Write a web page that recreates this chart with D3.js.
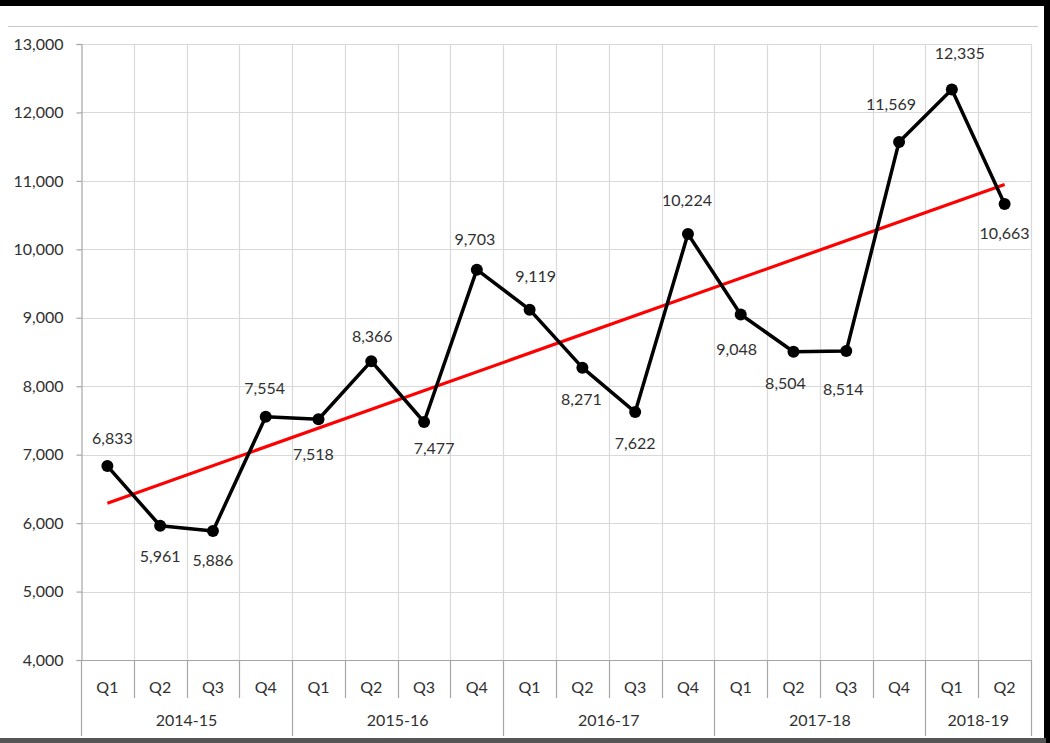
<!DOCTYPE html>
<html>
<head>
<meta charset="utf-8">
<script src="https://cdn.jsdelivr.net/npm/d3@7/dist/d3.min.js"></script>
<style>
  html, body { margin: 0; padding: 0; background: #fff; }
  svg { display: block; }
  text { font-family: Lato, "Open Sans", sans-serif; fill: #303030; }
</style>
</head>
<body>
<svg id="chart" width="1050" height="743"></svg>
<script>
// ---- data ----
const quarters = ["Q1","Q2","Q3","Q4","Q1","Q2","Q3","Q4","Q1","Q2","Q3","Q4","Q1","Q2","Q3","Q4","Q1","Q2"];
const years = ["2014-15","2015-16","2016-17","2017-18","2018-19"];
const yearSpans = [4, 4, 4, 4, 2];
const values = [6833, 5961, 5886, 7554, 7518, 8366, 7477, 9703, 9119, 8271, 7622, 10224, 9048, 8504, 8514, 11569, 12335, 10663];
const yTicks = [4000, 5000, 6000, 7000, 8000, 9000, 10000, 11000, 12000, 13000];

// ---- label layout (pixel offsets of value labels from their points) ----
const labelDx = [5, 0, 0, -1, -5, 1, 10, -2, 6, -1, 0, -1, -4, -8, -3, -8, 8, 0];
const labelDy = [-28, 31, 29, -28, 35, -25, 26, -30, -33, 32, 31, -34, 35, 32, 38, -38, -36, 29];

(function () {
const svg = d3.select("#chart");
const W = 1050, H = 743;
const pLeft = 81, pRight = 1031, pTop = 44, pBottom = 660;
const textColor = "#303030";

// frame
svg.append("rect").attr("x", 0).attr("y", 0).attr("width", W).attr("height", 6).attr("fill", "#000");
svg.append("rect").attr("x", 1044).attr("y", 0).attr("width", 6).attr("height", H).attr("fill", "#000");
svg.append("rect").attr("x", 0).attr("y", 738).attr("width", 1046).attr("height", 5).attr("fill", "#555");
svg.append("line").attr("x1", 8).attr("x2", 1038).attr("y1", 26.5).attr("y2", 26.5)
  .attr("stroke", "#c8c8c8").attr("stroke-width", 1.2);

const idx = d3.range(values.length);
const x = d3.scaleBand().domain(idx).range([pLeft, pRight]).padding(0);
const y = d3.scaleLinear().domain([4000, 13000]).range([pBottom, pTop]);

// horizontal gridlines
svg.append("g").selectAll("line").data(yTicks.slice(1)).join("line")
  .attr("x1", pLeft).attr("x2", pRight)
  .attr("y1", d => Math.round(y(d)) + 0.5).attr("y2", d => Math.round(y(d)) + 0.5)
  .attr("stroke", "#d9d9d9").attr("stroke-width", 1.2);

// vertical gridlines at category boundaries
const bounds = d3.range(values.length + 1).map(i => pLeft + i * x.bandwidth());
svg.append("g").selectAll("line").data(bounds.slice(1)).join("line")
  .attr("x1", d => Math.round(d) + 0.5).attr("x2", d => Math.round(d) + 0.5)
  .attr("y1", pTop).attr("y2", pBottom)
  .attr("stroke", "#d9d9d9").attr("stroke-width", 1.2);

// y axis
const yAxis = svg.append("g").attr("transform", `translate(${pLeft + 0.5},0)`)
  .call(d3.axisLeft(y).tickValues(yTicks).tickFormat(d3.format(",")).tickSize(5).tickPadding(13));
yAxis.select(".domain").attr("stroke", "#a6a6a6").attr("stroke-width", 1.2);
yAxis.selectAll(".tick line").attr("stroke", "#a6a6a6").attr("stroke-width", 1.2);
yAxis.selectAll(".tick text").style("font-family", "Lato, 'Open Sans', sans-serif")
  .style("font-size", "16px").attr("fill", textColor);

// x axis line
svg.append("line").attr("x1", pLeft).attr("x2", pRight)
  .attr("y1", pBottom + 0.5).attr("y2", pBottom + 0.5)
  .attr("stroke", "#a6a6a6").attr("stroke-width", 1.2);

// category separators
const groupStarts = [0];
yearSpans.forEach((s, i) => groupStarts.push(groupStarts[i] + s));
svg.append("g").selectAll("line").data(d3.range(values.length + 1)).join("line")
  .attr("x1", i => Math.round(bounds[i]) + 0.5).attr("x2", i => Math.round(bounds[i]) + 0.5)
  .attr("y1", pBottom)
  .attr("y2", i => groupStarts.includes(i) ? 736 : 698)
  .attr("stroke", "#a6a6a6").attr("stroke-width", 1.2);

// quarter labels
svg.append("g").selectAll("text").data(idx).join("text")
  .attr("x", i => x(i) + x.bandwidth() / 2).attr("y", 693)
  .attr("text-anchor", "middle").style("font-size", "16px")
  .text(i => quarters[i]);

// year labels
svg.append("g").selectAll("text").data(years).join("text")
  .attr("x", (d, i) => (bounds[groupStarts[i]] + bounds[groupStarts[i + 1]]) / 2)
  .attr("y", 726).attr("text-anchor", "middle").style("font-size", "16px")
  .text(d => d);

// linear trend (least squares over the series)
const xm = d3.mean(idx), ym = d3.mean(values);
const slope = d3.sum(idx, i => (i - xm) * (values[i] - ym)) / d3.sum(idx, i => (i - xm) ** 2);
const intercept = ym - slope * xm;
const cx = i => x(i) + x.bandwidth() / 2;
svg.append("line")
  .attr("x1", cx(0)).attr("y1", y(intercept))
  .attr("x2", cx(values.length - 1)).attr("y2", y(intercept + slope * (values.length - 1)))
  .attr("stroke", "#ff0000").attr("stroke-width", 3.2);

// series line
const line = d3.line().x(i => cx(i)).y(i => y(values[i]));
svg.append("path").datum(idx).attr("d", line)
  .attr("fill", "none").attr("stroke", "#000").attr("stroke-width", 3.5)
  .attr("stroke-linejoin", "round");

// markers
svg.append("g").selectAll("circle").data(idx).join("circle")
  .attr("cx", i => cx(i)).attr("cy", i => y(values[i])).attr("r", 6)
  .attr("fill", "#000");

// value labels
svg.append("g").selectAll("text").data(idx).join("text")
  .attr("x", i => cx(i) + labelDx[i])
  .attr("y", i => y(values[i]) + labelDy[i])
  .attr("dy", "0.35em")
  .attr("text-anchor", "middle").style("font-size", "16px")
  .text(i => d3.format(",")(values[i]));
})();
</script>
</body>
</html>
